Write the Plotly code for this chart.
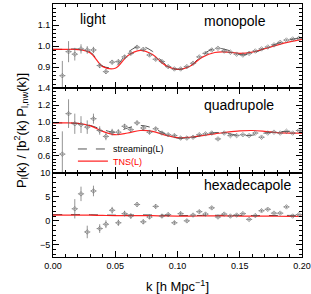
import plotly.graph_objects as go
from plotly.subplots import make_subplots

# ---- data ----
k_data = [0.0075, 0.0125, 0.0175, 0.0225, 0.0275, 0.0325, 0.0375, 0.0425, 0.0475, 0.0525,
          0.0575, 0.0625, 0.0675, 0.0725, 0.0775, 0.0825, 0.0875, 0.0925, 0.0975, 0.1025,
          0.1075, 0.1125, 0.1175, 0.1225, 0.1275, 0.1325, 0.1375, 0.1425, 0.1475, 0.1525,
          0.1575, 0.1625, 0.1675, 0.1725, 0.1775, 0.1825, 0.1875, 0.1925, 0.1975]
k_halfbin = [0.0025] * len(k_data)

mono = [0.860, 0.974, 0.962, 0.987, 0.982, 0.982, 0.908, 0.879, 0.924, 0.927,
        0.949, 0.966, 0.995, 0.985, 0.958, 0.938, 0.927, 0.903, 0.892, 0.892,
        0.903, 0.919, 0.949, 0.966, 0.982, 0.990, 0.977, 0.971, 0.962, 0.958,
        0.966, 0.977, 0.987, 0.996, 1.006, 1.018, 1.029, 1.034, 1.037]
mono_err = [0.07, 0.05, 0.03, 0.022, 0.018, 0.015, 0.012, 0.011, 0.010, 0.009,
            0.009, 0.008, 0.008, 0.008, 0.007, 0.007, 0.007, 0.007, 0.006, 0.006,
            0.006, 0.006, 0.006, 0.005, 0.005, 0.005, 0.005, 0.005, 0.005, 0.005,
            0.005, 0.004, 0.004, 0.004, 0.004, 0.004, 0.004, 0.004, 0.004]

quad = [0.62, 1.10, 0.98, 0.97, 0.94, 1.04, 0.90, 0.83, 0.88, 0.88,
        0.95, 0.91, 0.99, 0.93, 0.88, 0.92, 0.87, 0.85, 0.84, 0.81,
        0.81, 0.82, 0.85, 0.86, 0.87, 0.80, 0.87, 0.84, 0.84, 0.85,
        0.84, 0.87, 0.82, 0.87, 0.88, 0.87, 0.89, 0.87, 0.90]
quad_err = [0.27, 0.17, 0.12, 0.10, 0.08, 0.06, 0.05, 0.045, 0.04, 0.035,
            0.03, 0.03, 0.028, 0.026, 0.024, 0.022, 0.02, 0.02, 0.019, 0.018,
            0.017, 0.016, 0.016, 0.015, 0.015, 0.014, 0.014, 0.013, 0.013, 0.013,
            0.012, 0.012, 0.012, 0.011, 0.011, 0.011, 0.011, 0.010, 0.010]

hexa = [None, None, 2.5, 5.6, -2.3, 6.2, -1.6, -0.7, 2.2, -0.4,
        1.5, 1.0, 3.4, -0.2, 0.8, 3.0, 1.0, 1.3, -0.4, 1.5,
        0.0, 1.2, 1.9, 1.4, 2.7, 0.8, 1.4, 1.0, 1.2, 1.5,
        0.3, 1.1, 2.1, 2.4, 1.6, 1.6, 2.9, 1.0, 1.3]
hexa_err = [0, 0, 2.0, 1.5, 1.3, 1.1, 0.9, 0.8, 0.7, 0.65,
            0.6, 0.55, 0.5, 0.5, 0.45, 0.45, 0.4, 0.4, 0.4, 0.38,
            0.36, 0.35, 0.34, 0.33, 0.32, 0.31, 0.3, 0.3, 0.29, 0.28,
            0.28, 0.27, 0.27, 0.26, 0.26, 0.25, 0.25, 0.25, 0.24]

k_model = [0.00, 0.01, 0.02, 0.03, 0.04, 0.05, 0.06, 0.07, 0.08, 0.09, 0.10,
           0.11, 0.12, 0.13, 0.14, 0.15, 0.16, 0.17, 0.18, 0.19, 0.20]
tns_mono = [0.985, 0.985, 0.984, 0.968, 0.903, 0.895, 0.955, 0.980, 0.960, 0.910, 0.890,
            0.905, 0.948, 0.970, 0.972, 0.966, 0.972, 0.988, 1.005, 1.020, 1.032]
str_mono = [0.985, 0.985, 0.986, 0.972, 0.905, 0.903, 0.970, 1.000, 0.975, 0.915, 0.890,
            0.905, 0.958, 0.990, 0.982, 0.960, 0.965, 0.990, 1.012, 1.030, 1.040]
tns_quad = [0.99, 0.99, 0.985, 0.955, 0.89, 0.85, 0.87, 0.90, 0.89, 0.845, 0.815,
            0.82, 0.84, 0.86, 0.88, 0.895, 0.90, 0.89, 0.875, 0.87, 0.87]
str_quad = [0.99, 0.99, 0.985, 0.96, 0.91, 0.88, 0.93, 0.96, 0.93, 0.86, 0.81,
            0.81, 0.845, 0.875, 0.865, 0.84, 0.845, 0.87, 0.885, 0.89, 0.895]
tns_hexa = [1.20, 1.20, 1.19, 1.17, 1.12, 1.08, 1.08, 1.10, 1.08, 1.03, 1.00,
            1.00, 1.01, 1.02, 1.02, 1.00, 0.98, 0.97, 0.96, 0.95, 0.95]
str_hexa = [1.30, 1.30, 1.29, 1.27, 1.22, 1.18, 1.20, 1.24, 1.22, 1.15, 1.10,
            1.10, 1.13, 1.16, 1.15, 1.12, 1.10, 1.10, 1.12, 1.13, 1.14]

panel_names = ["monopole", "quadrupole", "hexadecapole"]
y_ranges = [[0.8, 1.2], [0.4, 1.4], [-7.5, 10]]
y_tickvals = [[0.9, 1.0, 1.1, 1.2], [0.6, 0.8, 1.0, 1.2, 1.4], [-5, 0, 5, 10]]
y_ticktext = [["0.9", "1.0", "1.1", "1.2"], ["0.6", "0.8", "1.0", "1.2", "1.4"], ["−5", "0", "5", "10"]]
y_minor = [0.02, 0.04, 1.0]
x_tickvals = [0.00, 0.05, 0.10, 0.15, 0.20]
x_ticktext = ["0.00", "0.05", "0.10", "0.15", "0.20"]

FONT = "Liberation Sans, Arial, Helvetica, sans-serif"
PT_COLOR = "#666666"

fig = make_subplots(rows=3, cols=1, shared_xaxes=True, vertical_spacing=0)

datasets = [(mono, mono_err, tns_mono, str_mono),
            (quad, quad_err, tns_quad, str_quad),
            (hexa, hexa_err, tns_hexa, str_hexa)]

for i, (vals, errs, tns, strm) in enumerate(datasets):
    row = i + 1
    fig.add_trace(go.Scatter(
        x=k_model, y=strm, mode="lines", line=dict(color="#555555", width=1, dash="dash", shape="spline"),
        name="streaming(L)", showlegend=(row == 2), legend="legend"), row=row, col=1)
    fig.add_trace(go.Scatter(
        x=k_model, y=tns, mode="lines", line=dict(color="rgba(255,0,0,0.85)", width=1.2, shape="spline"),
        name="<span style='color:red'>TNS(L)</span>", showlegend=(row == 2), legend="legend2"), row=row, col=1)
    fig.add_trace(go.Scatter(
        x=k_data, y=vals, mode="markers",
        marker=dict(symbol="diamond-open", size=3.5, color=PT_COLOR, line=dict(width=0.6, color=PT_COLOR)),
        error_y=dict(type="data", array=errs, visible=True, color=PT_COLOR, thickness=0.7, width=0),
        error_x=dict(type="data", array=k_halfbin, visible=True, color=PT_COLOR, thickness=0.6, width=0),
        showlegend=False, cliponaxis=True), row=row, col=1)

axis_common = dict(showline=True, linecolor="black", linewidth=1, mirror="ticks",
                   ticks="inside", ticklen=6, tickcolor="black", tickwidth=1,
                   showgrid=False, zeroline=False, automargin=False,
                   tickfont=dict(family=FONT, size=9, color="black"))

for i in range(3):
    row = i + 1
    fig.update_yaxes(range=y_ranges[i], tickmode="array", tickvals=y_tickvals[i], ticktext=y_ticktext[i],
                     minor=dict(tickmode="linear", tick0=0, dtick=y_minor[i], ticks="inside", ticklen=3,
                                tickcolor="black", showgrid=False),
                     row=row, col=1, **axis_common)
    fig.update_xaxes(range=[0, 0.2], tickmode="array", tickvals=x_tickvals, ticktext=x_ticktext,
                     showticklabels=(row == 3), ticklabeloverflow="allow",
                     minor=dict(tickmode="linear", tick0=0, dtick=0.01, ticks="inside", ticklen=3,
                                tickcolor="black", showgrid=False),
                     row=row, col=1, **axis_common)

fig.update_xaxes(title=dict(text="k [h Mpc<sup>−1</sup>]", font=dict(family=FONT, size=13, color="black"),
                            standoff=12), row=3, col=1)
fig.update_yaxes(title=dict(text="P<sub>l</sub>(k) / [b<sup>2</sup>(k) P<sub>l,nw</sub>(k)]",
                            font=dict(family=FONT, size=13, color="black"), standoff=8), row=2, col=1)

# panel labels
label_font = dict(family=FONT, size=14, color="black")
fig.add_annotation(text="light", xref="x domain", yref="y domain", x=0.1, y=0.82,
                   showarrow=False, xanchor="left", yanchor="middle", font=label_font)
for i, name in enumerate(panel_names):
    suffix = "" if i == 0 else str(i + 1)
    ypos = [0.8, 0.8, 0.85][i]
    fig.add_annotation(text=name, xref="x%s domain" % suffix, yref="y%s domain" % suffix,
                       x=0.6, y=ypos, showarrow=False, xanchor="left", yanchor="middle", font=label_font)

leg_common = dict(xanchor="left", yanchor="middle", bgcolor="rgba(0,0,0,0)",
                  font=dict(family=FONT, size=9, color="black"), tracegroupgap=0, itemwidth=30,
                  borderwidth=0)
fig.update_layout(
    width=311, height=294,
    margin=dict(l=53, r=9, t=4, b=37),
    paper_bgcolor="white", plot_bgcolor="white",
    font=dict(family=FONT, color="black"),
    legend=dict(x=0.08, y=0.427, **leg_common),
    legend2=dict(x=0.08, y=0.379, **leg_common),
)

fig.write_html("out.html", config={"displayModeBar": False},
               post_script="document.body.style.margin='0';document.body.style.padding='0';")
